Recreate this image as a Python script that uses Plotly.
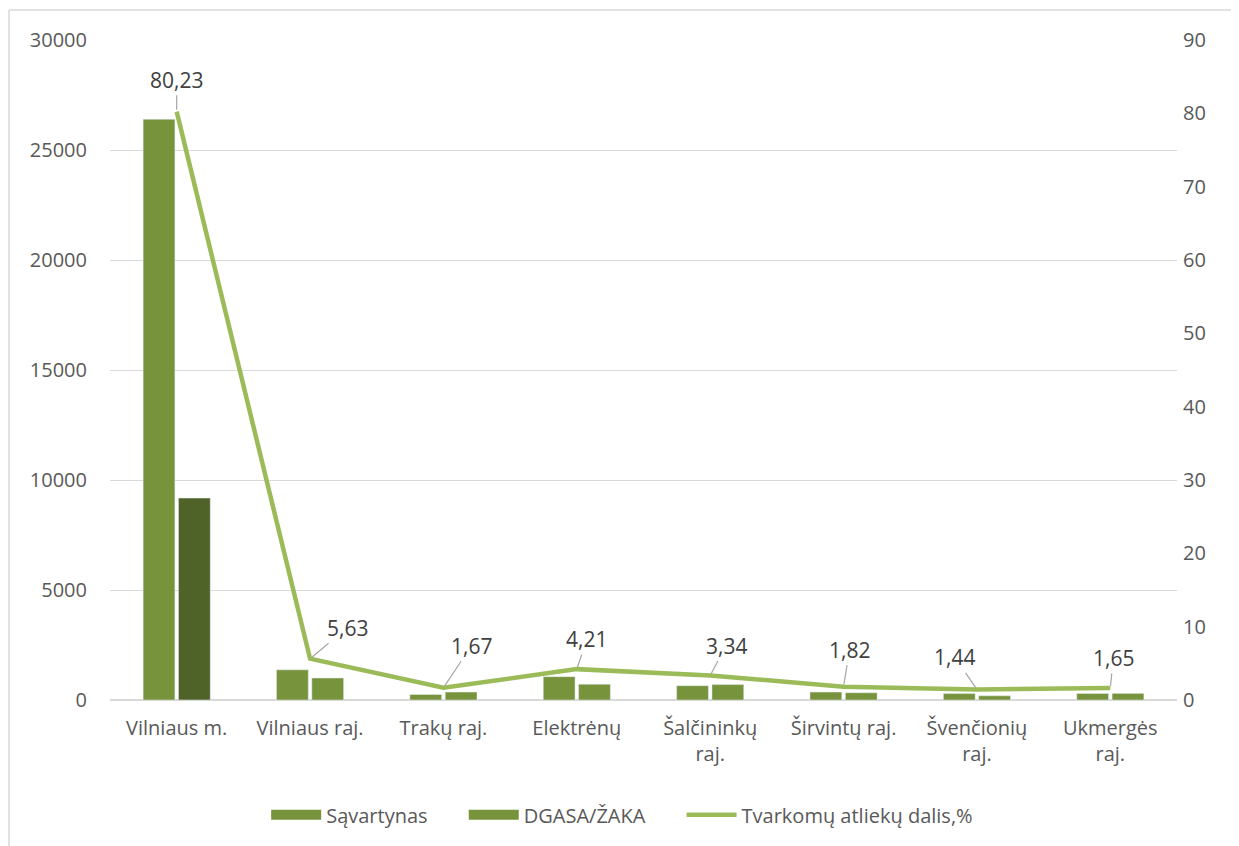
import plotly.graph_objects as go

categories = ["Vilniaus m.", "Vilniaus raj.", "Trakų raj.", "Elektrėnų",
              "Šalčininkų<br>raj.", "Širvintų raj.", "Švenčionių<br>raj.", "Ukmergės<br>raj."]
savartynas = [26400, 1370, 250, 1060, 650, 360, 290, 300]
dgasa = [9180, 1000, 360, 720, 700, 330, 190, 300]
dalis = [80.23, 5.63, 1.67, 4.21, 3.34, 1.82, 1.44, 1.65]
dalis_labels = ["80,23", "5,63", "1,67", "4,21", "3,34", "1,82", "1,44", "1,65"]
left_ticks = [0, 5000, 10000, 15000, 20000, 25000, 30000]
right_ticks = [0, 10, 20, 30, 40, 50, 60, 70, 80, 90]

# label offsets (pixels) for each data label
label_dx = [0, 37, 28, 10, 16, 6, -22, 3]
label_dy = [-32, -31, -42, -30, -30, -37, -32, -30]

BAR = "#77933C"
BAR_DARK = "#4F6228"
LINE = "#9BBB59"
TXT = "#595959"
FONT = "Open Sans"
PAD = "\u00a0" * 6  # legend spacing between entries

# page has an 8px body margin; figure placed so plot area is x 110-1177, y 40-700 on page
OFF = 8
L, R, T, B = 110 - OFF, 62, 40 - OFF, 146
W, H = 1239 - OFF, 846 - OFF
PW, PH = 1177 - 110, 700 - 40

fig = go.Figure()
fig.add_trace(go.Bar(x=categories, y=savartynas, name="Sąvartynas", offsetgroup="1",
                     marker=dict(color=BAR), yaxis="y", showlegend=False))
fig.add_trace(go.Bar(x=categories, y=dgasa, name="DGASA/ŽAKA", offsetgroup="2",
                     marker=dict(color=[BAR_DARK] + [BAR] * (len(dgasa) - 1)), yaxis="y",
                     showlegend=False))
# legend-only entries for the bar series (wide swatches as in the original)
fig.add_trace(go.Scatter(x=[None], y=[None], name="Sąvartynas" + PAD, mode="lines",
                         line=dict(color=BAR, width=12)))
fig.add_trace(go.Scatter(x=[None], y=[None], name="DGASA/ŽAKA" + PAD, mode="lines",
                         line=dict(color=BAR, width=12)))
fig.add_trace(go.Scatter(x=categories, y=dalis, name="Tvarkomų atliekų dalis,%",
                         mode="lines", line=dict(color=LINE, width=4.5), yaxis="y2"))

for c, v, t, dx, dy in zip(categories, dalis, dalis_labels, label_dx, label_dy):
    fig.add_annotation(x=c, y=v, xref="x", yref="y2", text=t, showarrow=True,
                       arrowhead=0, arrowwidth=1.2, arrowcolor="#A6A6A6",
                       ax=dx, ay=dy, standoff=2,
                       font=dict(family=FONT, size=21, color="#404040"))

# chart-area outline (top and left edges visible)
bx = (9 - 110) / PW
by = (700 - 10) / PH
fig.add_shape(type="line", xref="paper", yref="paper",
              x0=bx, x1=1.2, y0=by, y1=by,
              line=dict(color="#D9D9D9", width=1.5))
fig.add_shape(type="line", xref="paper", yref="paper",
              x0=bx, x1=bx, y0=by, y1=-0.3,
              line=dict(color="#D9D9D9", width=1.5))

fig.update_layout(
    width=W, height=H,
    margin=dict(l=L, r=R, t=T, b=B),
    paper_bgcolor="white", plot_bgcolor="white",
    barmode="group", bargap=0.47, bargroupgap=0.1,
    font=dict(family=FONT, size=20, color=TXT),
    showlegend=True,
    legend=dict(orientation="h", x=0.48, xanchor="center", y=-0.174, yanchor="middle",
                font=dict(family=FONT, size=20, color=TXT), traceorder="normal",
                itemwidth=50, itemclick=False),
    xaxis=dict(showgrid=False, showline=False, ticks="", ticklabelstandoff=14,
               tickfont=dict(size=20, color=TXT)),
    yaxis=dict(range=[0, 30000], tickvals=left_ticks, ticktext=[str(t) for t in left_ticks],
               showgrid=True, gridcolor="#D9D9D9", gridwidth=1.2, zeroline=True,
               zerolinecolor="#D9D9D9", zerolinewidth=1.5, showline=False,
               ticks="", ticklabelstandoff=22, tickfont=dict(size=20, color=TXT)),
    yaxis2=dict(range=[0, 90], tickvals=right_ticks, overlaying="y", side="right",
                showgrid=False, zeroline=False, showline=False, ticks="",
                ticklabelstandoff=5, tickfont=dict(size=20, color=TXT)),
    hovermode=False,
)

fig.write_html("out.html")
